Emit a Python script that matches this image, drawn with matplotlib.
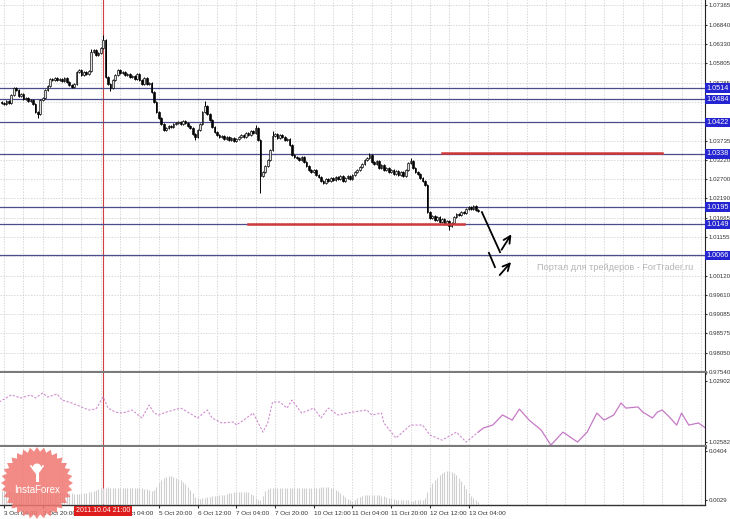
import numpy as np
import matplotlib
matplotlib.use("Agg")
import matplotlib.pyplot as plt
from matplotlib.patches import Polygon, Circle

plt.rcParams["font.family"] = ["Liberation Sans", "DejaVu Sans"]

# ---- data (H1 bars, bar index 0 = 3 Oct 04:00) ----
first_open = 1.0476
closes = [
    1.0474, 1.0472, 1.0480, 1.0474, 1.0496, 1.0514, 1.0509, 1.0493, 1.0498, 1.0485,
    1.0488, 1.0480, 1.0482, 1.0472, 1.0450, 1.0445, 1.0482, 1.0488, 1.0509, 1.0520,
    1.0538, 1.0536, 1.0541, 1.0536, 1.0538, 1.0533, 1.0541, 1.0530, 1.0522, 1.0517,
    1.0525, 1.0557, 1.0562, 1.0549, 1.0557, 1.0552, 1.0560, 1.0611, 1.0616, 1.0603,
    1.0608, 1.0621, 1.0643, 1.0544, 1.0525, 1.0514, 1.0536, 1.0549, 1.0562, 1.0554,
    1.0557, 1.0549, 1.0552, 1.0544, 1.0546, 1.0538, 1.0552, 1.0536, 1.0525, 1.0541,
    1.0525, 1.0528, 1.0504, 1.0477, 1.0450, 1.0434, 1.0418, 1.0402, 1.0407, 1.0412,
    1.0410, 1.0418, 1.0421, 1.0423, 1.0418, 1.0426, 1.0421, 1.0412, 1.0407, 1.0391,
    1.0383, 1.0402, 1.0418, 1.0450, 1.0466, 1.0445, 1.0429, 1.0410, 1.0396, 1.0388,
    1.0383, 1.0386, 1.0378, 1.0383, 1.0375, 1.0380, 1.0372, 1.0378, 1.0383, 1.0388,
    1.0383, 1.0394, 1.0388, 1.0399, 1.0394, 1.0407, 1.0375, 1.0279, 1.0290, 1.0306,
    1.0322, 1.0349, 1.0386, 1.0391, 1.0380, 1.0388, 1.0383, 1.0375, 1.0378, 1.0362,
    1.0335, 1.0330, 1.0327, 1.0322, 1.0330, 1.0316, 1.0306, 1.0295, 1.0290, 1.0295,
    1.0281, 1.0276, 1.0265, 1.0260, 1.0271, 1.0265, 1.0273, 1.0268, 1.0276, 1.0271,
    1.0279, 1.0265, 1.0273, 1.0279, 1.0271, 1.0281, 1.0290, 1.0295, 1.0303, 1.0311,
    1.0322, 1.0327, 1.0335, 1.0316, 1.0311, 1.0319, 1.0300, 1.0308, 1.0295, 1.0300,
    1.0290, 1.0295, 1.0284, 1.0292, 1.0281, 1.0290, 1.0279, 1.0295, 1.0314, 1.0319,
    1.0300, 1.0290, 1.0284, 1.0273, 1.0265, 1.0255, 1.0182, 1.0166, 1.0172, 1.0161,
    1.0169, 1.0156, 1.0164, 1.0150, 1.0158, 1.0145, 1.0153, 1.0169, 1.0177, 1.0174,
    1.0182, 1.0180, 1.0190, 1.0196, 1.0190, 1.0198, 1.0188, 1.0185,
]
# wick extremes that stick out (bar index -> price)
spike_highs = {36: 1.0618, 41: 1.0656, 83: 1.0480, 104: 1.0415, 111: 1.0399,
               151: 1.0340, 168: 1.0327}
spike_lows = {14: 1.0434, 44: 1.0506, 79: 1.0375, 106: 1.0233, 184: 1.0134}
wick = 0.0003

levels = [1.0514, 1.0484, 1.0422, 1.0338, 1.0195, 1.0149, 1.0066]
red_levels = [(181, 272, 1.0341), (101, 190, 1.0151)]
marker_bar = 41  # 2011.10.04 21:00

# forecast sketch (bar index, price)
fc_main = ([197.5, 205.0], [1.0182, 1.0075])
fc_arrow1 = ([205.0, 210.3], [1.0075, 1.0129])
fc_short = ([200.4, 202.9], [1.0073, 1.0035])
fc_arrow2 = ([204.1, 210.3], [1.0008, 1.0054])

price_ticks = [1.07365, 1.06840, 1.06330, 1.05805, 1.05285, 1.04760, 1.04240,
               1.03735, 1.03220, 1.02700, 1.02190, 1.01665, 1.01155, 1.00640,
               1.00120, 0.99610, 0.99085, 0.98575, 0.98050, 0.97540]

time_labels = ["3 Oct 04:00", "3 Oct 20:00", "4 Oct 12:00", "5 Oct 04:00",
               "5 Oct 20:00", "6 Oct 12:00", "7 Oct 04:00", "7 Oct 20:00",
               "10 Oct 12:00", "11 Oct 04:00", "11 Oct 20:00", "12 Oct 12:00",
               "13 Oct 04:00"]

# second window: line indicator (bar index, value)
ind_x = [-2, 3, 7, 11, 13, 16, 18, 22, 24, 28, 32, 35, 38, 41, 43, 46, 49, 53,
         57, 60, 62, 64, 67, 73, 76, 80, 84, 86, 90, 95, 96, 99, 103, 107, 109,
         111, 114, 117, 119, 123, 128, 131, 134, 138, 142, 144, 150, 152, 156,
         157, 162, 168, 173, 176, 181, 187, 191, 196, 198, 202, 206, 210, 213,
         217, 222, 226, 231, 237, 241, 245, 248, 252, 255, 257, 262, 264, 268,
         270, 272, 275, 278, 280, 283, 287, 290]
ind_y = [1.02792, 1.02829, 1.02813, 1.02829, 1.02813, 1.02839, 1.02818, 1.02834,
         1.02802, 1.02787, 1.02766, 1.02750, 1.02755, 1.02818, 1.02760, 1.02739,
         1.02734, 1.02750, 1.02708, 1.02776, 1.02734, 1.02724, 1.02739, 1.02760,
         1.02739, 1.02708, 1.02750, 1.02708, 1.02682, 1.02687, 1.02671, 1.02697,
         1.02734, 1.02634, 1.02682, 1.02792, 1.02792, 1.02760, 1.02802, 1.02734,
         1.02760, 1.02708, 1.02760, 1.02724, 1.02734, 1.02739, 1.02750, 1.02724,
         1.02734, 1.02682, 1.02603, 1.02671, 1.02671, 1.02619, 1.02592, 1.02634,
         1.02582, 1.02634, 1.02655, 1.02671, 1.02724, 1.02697, 1.02755, 1.02697,
         1.02645, 1.02566, 1.02634, 1.02582, 1.02634, 1.02734, 1.02697, 1.02724,
         1.02787, 1.02760, 1.02766, 1.02739, 1.02708, 1.02739, 1.02750, 1.02713,
         1.02671, 1.02734, 1.02671, 1.02682, 1.02655]
ind_split = 196

# third window: histogram, one value per bar
hist = [
    0.0100, 0.0098, 0.0096, 0.0095, 0.0093, 0.0092, 0.0090, 0.0089, 0.0088, 0.0087, 0.0086,
    0.0085, 0.0084, 0.0083, 0.0082, 0.0082, 0.0081, 0.0080, 0.0080, 0.0079, 0.0079, 0.0078,
    0.0078, 0.0079, 0.0080, 0.0081, 0.0082, 0.0083,
    0.0083, 0.0080, 0.0078, 0.0076, 0.0075, 0.0078, 0.0082, 0.0085, 0.0088, 0.0092, 0.0098,
    0.0104, 0.0110,
    0.0118, 0.0122, 0.0124, 0.0125, 0.0124, 0.0123, 0.0122, 0.0121, 0.0120, 0.0120, 0.0119,
    0.0119, 0.0120, 0.0121, 0.0122, 0.0121, 0.0120, 0.0118, 0.0115,
    0.0110, 0.0104, 0.0100, 0.0106,
    0.0130, 0.0155, 0.0178, 0.0195, 0.0205, 0.0210, 0.0212, 0.0208, 0.0200,
    0.0190, 0.0178, 0.0165, 0.0150, 0.0130, 0.0105, 0.0080, 0.0055,
    0.0040, 0.0038, 0.0040, 0.0045,
    0.0050, 0.0054, 0.0057, 0.0060, 0.0062, 0.0064, 0.0066, 0.0070, 0.0075, 0.0080,
    0.0085, 0.0088, 0.0090, 0.0091, 0.0092, 0.0091, 0.0090, 0.0086, 0.0078, 0.0065,
    0.0045, 0.0032, 0.0030, 0.0060,
    0.0095, 0.0110, 0.0118, 0.0122, 0.0124, 0.0124, 0.0123, 0.0122, 0.0122, 0.0121, 0.0121,
    0.0120, 0.0120, 0.0121, 0.0121, 0.0122, 0.0122, 0.0121, 0.0120, 0.0120, 0.0121, 0.0122,
    0.0124, 0.0126, 0.0128, 0.0129, 0.0127, 0.0123, 0.0117, 0.0108, 0.0096,
    0.0080, 0.0065, 0.0050, 0.0035, 0.0025, 0.0022, 0.0028, 0.0040,
    0.0052, 0.0060, 0.0065, 0.0068, 0.0070, 0.0070, 0.0068, 0.0066, 0.0064, 0.0060, 0.0056,
    0.0050, 0.0045, 0.0040, 0.0036,
    0.0032, 0.0030, 0.0028, 0.0027, 0.0026, 0.0025, 0.0024, 0.0024, 0.0025, 0.0026, 0.0028,
    0.0032, 0.0040,
    0.0090, 0.0125, 0.0155, 0.0180, 0.0200, 0.0218, 0.0232, 0.0242, 0.0248, 0.0250, 0.0245,
    0.0235, 0.0220, 0.0200, 0.0175, 0.0145, 0.0115, 0.0085, 0.0060, 0.0040, 0.0025, 0.0015,
]

# ---- figure ----
W, H = 730, 519
fig = plt.figure(figsize=(W / 100, H / 100), dpi=100)
fig.patch.set_facecolor("white")


def px_axes(top, bottom, right=705):
    return fig.add_axes([0, 1 - bottom / H, right / W, (bottom - top) / H])


ax1 = px_axes(0, 373)
ax2 = px_axes(373, 447)
ax3 = px_axes(447, 505)

idx = np.arange(len(closes)) - 1
close = np.array(closes)
opens = np.concatenate([[first_open], close[:-1]])
highs = np.maximum(opens, close) + wick
lows = np.minimum(opens, close) - wick
for k, v in spike_highs.items():
    highs[k + 1] = v
for k, v in spike_lows.items():
    lows[k + 1] = v

xlim = (-1.65, 289.7)
grid_kw = dict(color="#c8c8c8", lw=0.5, ls=(0, (2, 2)))
vgrid = np.arange(0, 290, 8)

for ax in (ax1, ax2, ax3):
    ax.set_xlim(*xlim)
    for x in vgrid:
        ax.axvline(x, zorder=0, **grid_kw)
    ax.axvline(marker_bar, color="#d04040", lw=0.8, zorder=1)
    ax.spines["left"].set_visible(False)
    ax.spines["top"].set_visible(False)
    ax.spines["right"].set_color("#222222")
    ax.spines["right"].set_linewidth(0.8)
    ax.spines["bottom"].set_color("#7a7a7a")
    ax.spines["bottom"].set_linewidth(3)
    ax.yaxis.tick_right()
    ax.tick_params(axis="y", labelsize=4.4, length=1.5, pad=1, colors="#333333")
    ax.tick_params(axis="x", bottom=False, labelbottom=False)
ax3.spines["bottom"].set_linewidth(1)
ax3.spines["bottom"].set_color("#333333")

# main price window
ax1.set_ylim(0.97541 - 0.00027, 1.07499)
ax1.set_yticks(price_ticks, [f"{t:.5f}" for t in price_ticks])
for t in price_ticks:
    ax1.axhline(t, zorder=0, **grid_kw)

up = close >= opens
ax1.vlines(idx, lows, highs, color="black", lw=0.7, zorder=3)
ax1.bar(idx[up], (close - opens)[up] + 0.00005, bottom=opens[up], width=0.7,
        color="#e0e0e0", edgecolor="black", linewidth=0.45, zorder=4)
ax1.bar(idx[~up], (close - opens)[~up], bottom=opens[~up], width=0.7,
        color="black", edgecolor="black", linewidth=0.45, zorder=4)

for lv in levels:
    ax1.axhline(lv, color="#4c4c8c", lw=0.9, zorder=2)
    ax1.text(1.002, lv, f"{lv:.4f}", transform=ax1.get_yaxis_transform(),
             ha="left", va="center", fontsize=5.2, color="white", zorder=10,
             clip_on=False,
             bbox=dict(boxstyle="square,pad=0.18", fc="#2424d0", ec="none"))
for x0, x1, lv in red_levels:
    ax1.plot([x0, x1], [lv, lv], color="#d03a3a", lw=1.8, zorder=5)

ax1.plot(*fc_main, color="black", lw=1.3, zorder=6)
ax1.plot(*fc_short, color="black", lw=1.3, zorder=6)
for xs, ys in (fc_arrow1, fc_arrow2):
    ax1.annotate("", xy=(xs[1], ys[1]), xytext=(xs[0], ys[0]),
                 arrowprops=dict(arrowstyle="->,head_length=0.5,head_width=0.25",
                                 color="black", lw=1.3), zorder=6)

ax1.text(0.762, 0.282, "Портал для трейдеров - ForTrader.ru",
         transform=ax1.transAxes, ha="left", va="center", fontsize=6.6,
         color="#b4b4b4")

# second window
ax2.set_ylim(1.02556, 1.02944)
ax2.set_yticks([1.02902, 1.02582], ["1.02902", "1.02582"])
ix = np.array(ind_x)
iy = np.array(ind_y)
dashed = ix <= ind_split
solid = ix >= ind_split
ax2.plot(ix[dashed], iy[dashed], color="#cf8ccf", lw=0.8, ls=(0, (2, 1.5)))
ax2.plot(ix[solid], iy[solid], color="#c679c6", lw=0.9)

# third window
ax3.set_ylim(-0.0010, 0.0435)
ax3.set_yticks([0.0404, 0.0029], ["0.0404", "0.0029"])
ax3.vlines(idx, 0, hist, color="#cfcfcf", lw=0.8, zorder=2)
ax3.set_xticks(np.arange(0, 16 * len(time_labels), 16), time_labels)
ax3.tick_params(axis="x", bottom=True, labelbottom=True, labelsize=4.6,
                length=2, pad=2, colors="#333333")
for lab in ax3.get_xticklabels():
    lab.set_ha("left")
ax3.text(marker_bar, -0.1, "2011.10.04 21:00", transform=ax3.get_xaxis_transform(),
         ha="center", va="center", fontsize=5, color="white", zorder=10,
         clip_on=False, bbox=dict(boxstyle="square,pad=0.25", fc="#dd1c1c", ec="none"))

# InstaForex seal in the bottom-left corner
lg = fig.add_axes([0, 0, 80 / W, 80 / H])
lg.set_xlim(0, 80)
lg.set_ylim(519, 439)
lg.axis("off")
n = 64
ang = np.linspace(0, 2 * np.pi, n, endpoint=False)
rad = np.where(np.arange(n) % 2 == 0, 36, 31.5)
lg.add_patch(Polygon(np.c_[37 + rad * np.cos(ang), 483 + rad * np.sin(ang)],
                     closed=True, fc="#f07770", ec="none", alpha=0.85))
lg.add_patch(Circle((37, 468), 4.5, fc="white", ec="none"))
lg.plot([37, 37], [470, 480], color="white", lw=2.2)
lg.plot([31, 37, 43], [466, 474, 466], color="white", lw=1.2)
lg.text(37, 490, "InstaForex", ha="center", va="center", fontsize=7,
        color="white")

fig.savefig("out.png", dpi=100)
